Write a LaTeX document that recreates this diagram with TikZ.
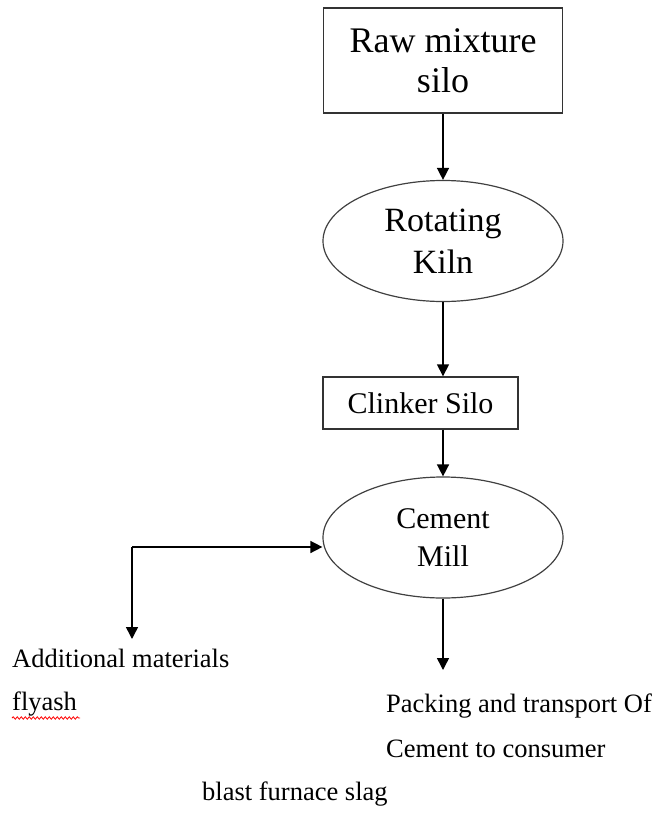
\documentclass[tikz,border=0pt]{standalone}
\usepackage{fontspec}
\setmainfont{Liberation Serif}
\usetikzlibrary{shapes.geometric,arrows.meta,decorations.pathmorphing}
\begin{document}
\begin{tikzpicture}[x=1pt,y=-1pt,
  boxnode/.style={draw=black!80,line width=1.4pt,rectangle,inner sep=0pt},
  ellnode/.style={draw=black!75,line width=1.2pt,ellipse,inner sep=0pt,minimum width=240pt,minimum height=121pt},
  flow/.style={line width=1.5pt,-{Triangle[width=12pt,length=12pt]}},
  lbl/.style={anchor=base west,inner sep=0pt,font=\fontsize{26.5}{30}\selectfont}]
\useasboundingbox (0,0) rectangle (655,814);
\node[boxnode,minimum width=239pt,minimum height=105pt,align=center,font=\fontsize{36}{40}\selectfont] (raw) at (443,60.5) {Raw mixture\\silo};
\node[ellnode,align=center,font=\fontsize{34}{42}\selectfont] (kiln) at (443,241) {Rotating\\Kiln};
\node[boxnode,minimum width=195pt,minimum height=52pt,font=\fontsize{30}{36}\selectfont] (clinker) at (420.5,403) {Clinker Silo};
\node[ellnode,align=center,font=\fontsize{30}{38}\selectfont] (mill) at (443,537.5) {Cement\\Mill};
\node[lbl] (addl) at (12,667) {Additional materials};
\node[lbl] (fly) at (12,710) {flyash};
\node[lbl] (pack) at (386,712) {Packing and transport Of};
\node[lbl] (cons) at (386,757) {Cement to consumer};
\node[lbl] (slag) at (202,800) {blast furnace slag};
\coordinate (j) at (132,547);
\coordinate (addtip) at (132,639);
\coordinate (packtip) at (443,670);
\draw[flow] (raw.south) -- (kiln.north);
\draw[flow] (kiln.south) -- (kiln.south |- clinker.north);
\draw[flow] (mill.north |- clinker.south) -- (mill.north);
\draw[flow] (mill.south) -- (packtip);
\draw[flow] (j) -- (j -| mill.west);
\draw[flow] (j) -- (addtip);
\draw[red,line width=0.8pt,decorate,decoration={snake,amplitude=1.2pt,segment length=4pt}] (fly.base west) ++(0,8) -- ++(68,0);
\end{tikzpicture}
\end{document}
